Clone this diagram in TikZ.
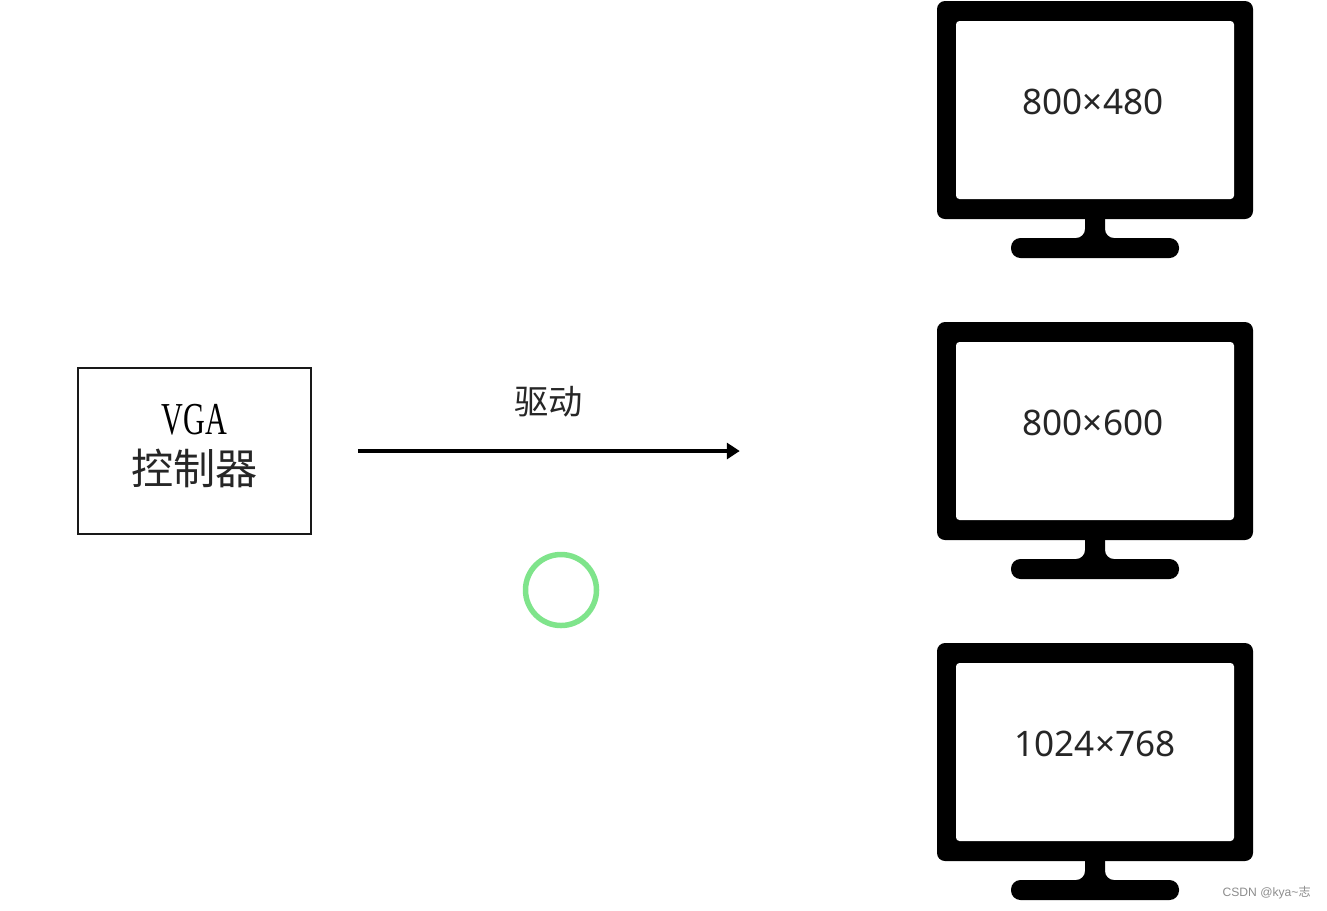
\documentclass[tikz,border=0pt]{standalone}
\usepackage{fontspec}
\usetikzlibrary{arrows.meta, positioning, calc}
\setmainfont{Liberation Sans}
\newfontfamily\cjkfont{Noto Sans CJK SC}
\newfontfamily\resfont{Noto Sans}
\newfontfamily\narrowserif[FakeStretch=0.66]{Liberation Serif}
\definecolor{ringgreen}{HTML}{7FE48B}

\begin{document}
\begin{tikzpicture}[
    >=Latex,
    frameblock/.style={
        fill=black,
        rounded corners=0.16cm,
        minimum width=6.32cm,
        minimum height=4.36cm,
        outer sep=0pt
    },
    screenblock/.style={
        fill=white,
        rounded corners=0.07cm,
        minimum width=5.56cm,
        minimum height=3.56cm,
        outer sep=0pt
    },
    baseblock/.style={
        fill=black,
        rounded corners=0.19cm,
        minimum width=3.36cm,
        minimum height=0.4cm,
        outer sep=0pt
    },
    neckpart/.style={
        fill=black,
        rounded corners=0.18cm
    },
    restxt/.style={
        font=\resfont\fontsize{20}{24}\selectfont,
        text=black!85
    },
    ctrlblock/.style={
        draw=black!90,
        line width=0.05cm,
        minimum width=4.66cm,
        minimum height=3.32cm,
        text depth=0.26cm,
        align=center
    },
    flow/.style={
        -{Triangle[length=0.26cm,width=0.32cm]},
        line width=0.08cm
    }
]
\useasboundingbox (0,0) rectangle (26.54,-18.2);

% =====================
% Monitors
% =====================

\node[frameblock] (f1) at (21.9,-2.2) {};
\node[screenblock] (s1) at (f1) {};
\node[restxt] (r1) at ($(s1)+(-0.04,0.16)$) {800×480};
\node[baseblock, below=0.38cm of f1] (b1) {};
\fill[neckpart] ($(b1.north)+(-0.45,0)$) -- ($(b1.north)+(-0.2,0)$) -- ($(f1.south)+(-0.2,0.3)$)
    -- ($(f1.south)+(0.2,0.3)$) -- ($(b1.north)+(0.2,0)$) -- ($(b1.north)+(0.45,0)$) -- cycle;

\node[frameblock, below=2.06cm of f1] (f2) {};
\node[screenblock] (s2) at (f2) {};
\node[restxt] (r2) at ($(s2)+(-0.04,0.16)$) {800×600};
\node[baseblock, below=0.38cm of f2] (b2) {};
\fill[neckpart] ($(b2.north)+(-0.45,0)$) -- ($(b2.north)+(-0.2,0)$) -- ($(f2.south)+(-0.2,0.3)$)
    -- ($(f2.south)+(0.2,0.3)$) -- ($(b2.north)+(0.2,0)$) -- ($(b2.north)+(0.45,0)$) -- cycle;

\node[frameblock, below=2.06cm of f2] (f3) {};
\node[screenblock] (s3) at (f3) {};
\node[restxt] (r3) at ($(s3)+(0,0.16)$) {1024×768};
\node[baseblock, below=0.38cm of f3] (b3) {};
\fill[neckpart] ($(b3.north)+(-0.45,0)$) -- ($(b3.north)+(-0.2,0)$) -- ($(f3.south)+(-0.2,0.3)$)
    -- ($(f3.south)+(0.2,0.3)$) -- ($(b3.north)+(0.2,0)$) -- ($(b3.north)+(0.45,0)$) -- cycle;

% =====================
% Controller and arrow
% =====================

\node[ctrlblock] (ctrl) at (3.89,-9.02) {
    {\narrowserif\fontsize{26}{28}\selectfont VGA}\\[7pt]
    {\cjkfont\fontsize{24}{28}\selectfont\color{black!85} 控制器}
};

\coordinate[right=0.91cm of ctrl] (drvstart);
\coordinate[right=7.64cm of drvstart] (drvend);
\draw[flow] (drvstart) -- (drvend);

\node[font=\cjkfont\fontsize{19.5}{24}\selectfont, text=black!85, above=0.56cm of $(drvstart)!0.5!(drvend)$] (drvlabel) {驱动};

\node[draw=ringgreen, circle, line width=0.11cm, minimum size=1.42cm, inner sep=0pt] (ring) at (11.22,-11.8) {};

% =====================
% Watermark
% =====================

\node[font=\fontsize{6.9}{9}\selectfont, text=black!45, anchor=east, inner sep=0pt] (mark) at (26.22,-17.86) {CSDN @kya\textasciitilde{\cjkfont 志}};

\end{tikzpicture}
\end{document}
